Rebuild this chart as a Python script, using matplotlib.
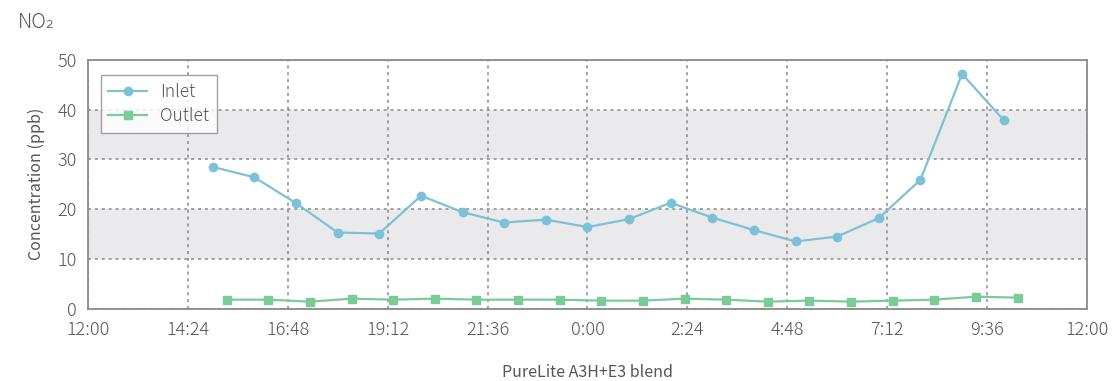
import matplotlib
matplotlib.use("Agg")
import matplotlib.pyplot as plt

plt.rcParams['font.family'] = ['Noto Sans CJK JP', 'DejaVu Sans']
plt.rcParams['font.weight'] = 'light'

# Hourly NO2 readings (ppb)
inlet_times = ["15:00", "16:00", "17:00", "18:00", "19:00", "20:00", "21:00",
               "22:00", "23:00", "0:00", "1:00", "2:00", "3:00", "4:00",
               "5:00", "6:00", "7:00", "8:00", "9:00", "10:00"]
inlet_values = [28.5, 26.4, 21.2, 15.3, 15.1, 22.7, 19.4, 17.3, 17.9, 16.4,
                18.0, 21.3, 18.3, 15.8, 13.5, 14.5, 18.2, 25.9, 47.2, 37.9]

outlet_times = ["15:20", "16:20", "17:20", "18:20", "19:20", "20:20", "21:20",
                "22:20", "23:20", "0:20", "1:20", "2:20", "3:20", "4:20",
                "5:20", "6:20", "7:20", "8:20", "9:20", "10:20"]
outlet_values = [1.8, 1.8, 1.4, 2.0, 1.8, 2.0, 1.8, 1.8, 1.8, 1.6,
                 1.6, 2.0, 1.8, 1.4, 1.6, 1.4, 1.6, 1.8, 2.4, 2.2]

x_tick_labels = ["12:00", "14:24", "16:48", "19:12", "21:36", "0:00",
                 "2:24", "4:48", "7:12", "9:36", "12:00"]
y_ticks = [0, 10, 20, 30, 40, 50]


def to_hours(t):
    """Hours on a 12:00 -> 12:00 (next day) axis."""
    h, m = (int(v) for v in t.split(":"))
    hrs = h + m / 60.0
    return hrs if hrs >= 12 else hrs + 24


text_col = "#555555"
grid_col = "#8a8a8a"
inlet_col = "#7dc1d6"
outlet_col = "#7acb98"

fig = plt.figure(figsize=(11.13, 3.81), dpi=100)
ax = fig.add_axes([0.079, 0.19, 0.8976, 0.6525])

# shaded bands
for lo, hi in [(10, 20), (30, 40)]:
    ax.axhspan(lo, hi, color="#eaeaec", zorder=0, lw=0)

ax.plot([to_hours(t) for t in inlet_times], inlet_values, color=inlet_col,
        marker="o", markersize=6, lw=1.6, label="Inlet", zorder=3)
ax.plot([to_hours(t) for t in outlet_times], outlet_values, color=outlet_col,
        marker="s", markersize=6, lw=1.6, label="Outlet", zorder=3)

x_ticks = [12 + 2.4 * i for i in range(len(x_tick_labels))]
ax.set_xlim(12, 36)
ax.set_ylim(0, 50)
ax.set_xticks(x_ticks)
ax.set_xticklabels(x_tick_labels)
ax.set_yticks(y_ticks)
ax.tick_params(length=0, labelsize=13, colors=text_col)
ax.tick_params(axis="x", pad=9)
ax.tick_params(axis="y", pad=8)

ax.grid(True, linestyle=(0, (2, 2.5)), color=grid_col, lw=1.1, zorder=1)
ax.set_axisbelow(True)
for s in ax.spines.values():
    s.set_color("#8a8a8a")
    s.set_linewidth(1.3)

ax.set_ylabel("Concentration (ppb)", fontsize=11.5, color=text_col, labelpad=9)
ax.set_xlabel("PureLite A3H+E3 blend", fontsize=11.5, color=text_col, labelpad=18)

fig.text(0.016, 0.94, "NO₂", fontsize=14.5, color=text_col, va="center", ha="left")

leg = ax.legend(loc="upper left", bbox_to_anchor=(0.004, 0.975), fontsize=12.5,
                frameon=True, fancybox=False, borderpad=0.45, labelspacing=0.35,
                handlelength=2.2, handletextpad=0.8)
leg.get_frame().set_edgecolor("#8a8a8a")
leg.get_frame().set_linewidth(1.0)
for t in leg.get_texts():
    t.set_color(text_col)

fig.savefig("out.png", dpi=100)
